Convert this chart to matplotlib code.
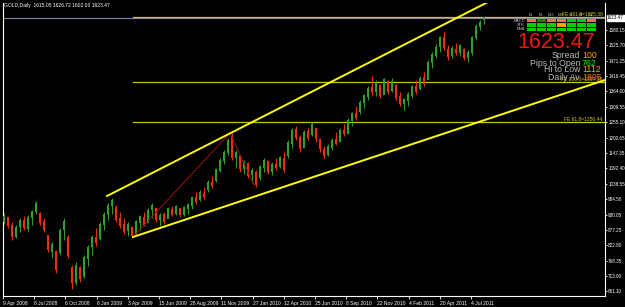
import matplotlib
matplotlib.use("Agg")
import matplotlib.pyplot as plt
import numpy as np
from matplotlib.patches import Rectangle

# candles (one candle per ~8 trading days)
opens = [905, 920, 892, 852, 885, 910, 880, 918, 940, 935, 905, 855, 800, 800, 795, 875, 850, 745, 690, 745,
         712, 775, 815, 850, 845, 892, 928, 962, 955, 915, 895, 872, 885, 860, 900, 920, 900, 945, 950, 912,
         930, 915, 948, 932, 950, 930, 950, 962, 990, 980, 1005, 1015, 1042, 1050, 1085, 1118, 1148, 1205, 1130, 1135,
         1090, 1110, 1070, 1080, 1060, 1095, 1118, 1080, 1105, 1098, 1128, 1135, 1180, 1230, 1200, 1165, 1222, 1210, 1232, 1195,
         1160, 1140, 1165, 1195, 1185, 1225, 1215, 1258, 1285, 1290, 1322, 1345, 1378, 1362, 1385, 1350, 1400, 1365, 1385, 1345,
         1320, 1330, 1348, 1382, 1372, 1412, 1405, 1462, 1490, 1520, 1555, 1512, 1488, 1510, 1500, 1512, 1482, 1500, 1550, 1590,
         1615.05]
highs = [936, 922, 904, 893, 918, 925, 929, 946, 978, 939, 918, 858, 834, 805, 883, 918, 858, 753, 763, 749,
         788, 823, 858, 883, 904, 939, 971, 988, 964, 939, 918, 904, 890, 911, 929, 939, 953, 971, 953, 936,
         939, 957, 960, 964, 953, 960, 971, 996, 1010, 1017, 1027, 1052, 1066, 1094, 1129, 1157, 1200, 1217, 1157, 1140,
         1122, 1115, 1094, 1087, 1105, 1129, 1122, 1115, 1129, 1136, 1150, 1193, 1235, 1242, 1210, 1228, 1235, 1256, 1235, 1200,
         1172, 1179, 1200, 1221, 1235, 1249, 1270, 1291, 1312, 1333, 1355, 1383, 1418, 1404, 1390, 1411, 1404, 1411, 1390, 1361,
         1340, 1361, 1386, 1404, 1418, 1432, 1474, 1502, 1531, 1559, 1573, 1527, 1524, 1534, 1531, 1516, 1509, 1559, 1601, 1615,
         1626.72]
lows = [897, 883, 841, 848, 869, 876, 869, 893, 932, 893, 869, 798, 777, 724, 788, 841, 777, 668, 682, 693,
        707, 749, 788, 820, 841, 876, 911, 932, 904, 883, 862, 855, 848, 858, 876, 890, 904, 918, 904, 890,
        897, 918, 925, 929, 922, 925, 932, 950, 967, 978, 985, 1010, 1024, 1045, 1080, 1108, 1140, 1122, 1094, 1080,
        1073, 1059, 1041, 1027, 1052, 1080, 1073, 1069, 1087, 1094, 1080, 1129, 1164, 1193, 1150, 1175, 1193, 1207, 1186, 1150,
        1129, 1136, 1157, 1175, 1193, 1207, 1221, 1242, 1263, 1284, 1305, 1333, 1351, 1348, 1340, 1358, 1355, 1361, 1333, 1312,
        1298, 1312, 1340, 1355, 1369, 1383, 1411, 1446, 1481, 1502, 1509, 1474, 1481, 1492, 1488, 1474, 1467, 1492, 1545, 1580,
        1602]
closes = [925, 890, 850, 885, 910, 882, 920, 940, 968, 900, 875, 805, 825, 735, 875, 905, 785, 690, 750, 705,
          780, 815, 850, 830, 895, 930, 962, 980, 912, 890, 870, 895, 855, 905, 922, 895, 945, 962, 910, 928,
          905, 950, 930, 958, 928, 955, 965, 990, 975, 1008, 992, 1045, 1030, 1088, 1120, 1150, 1190, 1130, 1150, 1090,
          1115, 1065, 1085, 1035, 1098, 1120, 1080, 1108, 1095, 1130, 1088, 1185, 1228, 1200, 1160, 1220, 1200, 1248, 1195, 1160,
          1135, 1170, 1192, 1180, 1228, 1212, 1262, 1285, 1270, 1325, 1348, 1375, 1360, 1395, 1348, 1405, 1362, 1400, 1340, 1318,
          1335, 1352, 1380, 1362, 1410, 1390, 1465, 1495, 1520, 1552, 1515, 1485, 1515, 1498, 1525, 1480, 1500, 1552, 1592, 1608,
          1623.47]

date_labels = ["9 Apr 2008", "8 Jul 2008", "6 Oct 2008", "6 Jan 2009", "3 Apr 2009", "15 Jun 2009",
               "28 Aug 2009", "11 Nov 2009", "27 Jan 2010", "12 Apr 2010", "25 Jun 2010", "8 Sep 2010",
               "22 Nov 2010", "4 Feb 2011", "20 Apr 2011", "4 Jul 2011"]
price_ticks = [1580.15, 1525.70, 1471.25, 1416.45, 1364.00, 1309.55, 1255.10, 1200.65, 1147.35,
               1092.40, 1038.55, 984.50, 930.05, 877.25, 822.80, 768.35, 713.90, 661.10]

# channel lines and fibo expansion points (candle index, price)
upper_line = ([25.75, 125.0], [995.5, 1707.0])
lower_line = ([32.25, 150.25], [851.2, 1403.8])
fibo_x = [32.25, 56.5, 62.5]
fibo_y = [851.2, 1217.2, 1034.2]
fibo_levels = [1256.44, 1397.36, 1625.38]
fibo_names = ["FE 61.8=1256.44", "FE 100.0=1397.36", "FE 161.8=1625.38"]
bid = 1623.47

# indicator panel
tf_names = ["M1", "M5", "M15", "M30", "H1", "H4", "D1"]
rows = ["MACD", "STR", "EMA"]
sal, grn, dgr, org = "#f26a5a", "#00d000", "#008a00", "#ffa000"
cells = [[sal, dgr, sal, sal, grn, grn, sal],
         [grn, grn, grn, org, grn, grn, grn],
         [grn, grn, grn, grn, grn, grn, grn]]

W, H = 625, 307
fig = plt.figure(figsize=(W / 100, H / 100), dpi=100, facecolor="black")
ax = fig.add_axes([3 / W, (H - 296) / H, 602 / W, 293 / H], facecolor="black")

x = np.arange(len(closes))
o = np.array(opens); c = np.array(closes)
col = np.where(c >= o, "#23a823", "#ff2a00")
ax.vlines(x, lows, highs, colors=col, linewidth=0.7, zorder=3)
ax.bar(x, np.abs(c - o) + 1.5, bottom=np.minimum(o, c), width=0.7, color=col, linewidth=0, zorder=3)

# lines
ax.axhline(bid, color="#7a8898", linewidth=0.8, zorder=1)
for lv in fibo_levels:
    ax.plot([fibo_x[0], 151], [lv, lv], color="#c8c800", linewidth=0.9, zorder=2)
ax.plot(fibo_x, fibo_y, color="#a01010", linewidth=0.7, zorder=4)
ax.plot(*upper_line, color="#ffff00", linewidth=1.4, zorder=5)
ax.plot(*lower_line, color="#ffff00", linewidth=1.4, zorder=5)

ax.set_xlim(-0.25, 150.25)
ax.set_ylim(643.5, 1674.8)
for s in ax.spines.values():
    s.set_color("white")
    s.set_linewidth(0.8)
ax.spines["top"].set_visible(False)

tick_pos = np.arange(len(date_labels)) * 7.8 - 0.25
ax.set_xticks(tick_pos)
ax.set_xticklabels(date_labels, fontsize=3.6, color="white", ha="left", family="Liberation Sans")
ax.tick_params(axis="x", colors="white", length=2, width=0.6, pad=1.5)
ax.yaxis.tick_right()
ax.set_yticks(price_ticks)
ax.set_yticklabels([f"{v:.2f}" for v in price_ticks], fontsize=3.3, color="white", family="Liberation Sans")
ax.tick_params(axis="y", colors="white", length=1.5, width=0.6, pad=0.8)

# bid label on the price scale
ax.text(1.0035, bid, f"{bid:.2f}", transform=ax.get_yaxis_transform(), fontsize=3.3, color="black",
        va="center", ha="left", family="Liberation Sans",
        bbox=dict(boxstyle="square,pad=0.12", fc="white", ec="white"))

# fibo labels
for lv, nm in zip(fibo_levels, fibo_names):
    ax.text(149.6, lv, nm, fontsize=3.6, color="#c8c800", ha="right", va="bottom", family="Liberation Sans", zorder=6)

def fx(px):
    return px / W

def fy(py):
    return 1 - py / H

fig.text(fx(4), fy(5), f"GOLD,Daily  {opens[-1]:.2f} {highs[-1]:.2f} {lows[-1]:.2f} {closes[-1]:.2f}",
         fontsize=3.6, color="white", va="center", family="Liberation Sans")

# indicator grid
for j, nm in enumerate(tf_names):
    fig.text(fx(531 + 10 * j), fy(15.5), nm, fontsize=2.4, color="#c0c0c0", ha="center", va="center",
             family="Liberation Sans")
for i, rn in enumerate(rows):
    yy = 19 + 4.4 * i
    fig.text(fx(525), fy(yy + 1.6), rn, fontsize=2.8, color="#c0c0c0", ha="right", va="center",
             family="Liberation Sans")
    for j in range(len(tf_names)):
        fig.add_artist(Rectangle((fx(527 + 10 * j), fy(yy + 3.4)), 8.5 / W, 3.4 / H,
                                 transform=fig.transFigure, color=cells[i][j], linewidth=0))

fig.text(fx(556), fy(43), f"{bid:.2f}", fontsize=15.5, color="#ff1010", ha="center", va="center",
         family="Liberation Sans")

info = [("Spread", "100", "#ffa000", 56), ("Pips to Open", "762", "#00ff00", 63),
        ("Hi to Low", "1112", "#ffa000", 70), ("Daily Av", "1805", "#ff7000", 77)]
for lab, val, vc, yy in info:
    fig.text(fx(580), fy(yy), lab, fontsize=6.3, color="#b8b8b8", ha="right", va="center", family="Liberation Sans")
    fig.text(fx(582), fy(yy), val, fontsize=6.3, color=vc, ha="left", va="center", family="Liberation Sans")

fig.savefig("out.png", dpi=100, facecolor="black")
